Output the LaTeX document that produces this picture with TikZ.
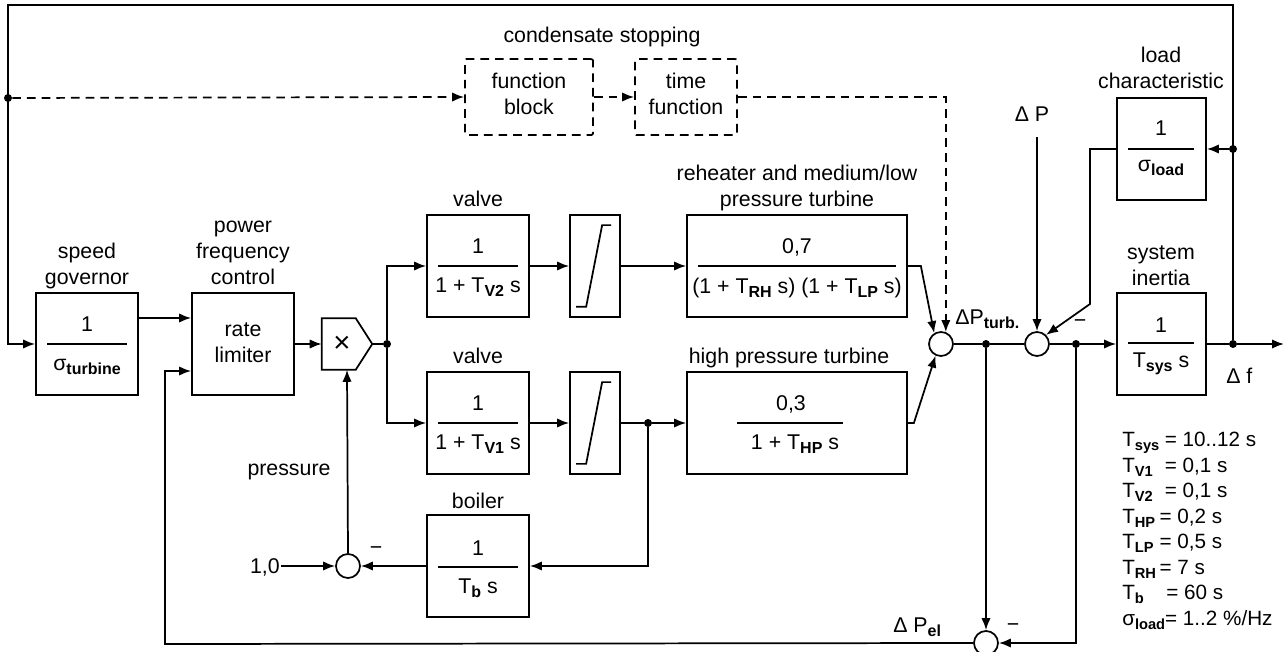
\documentclass[tikz,border=0pt]{standalone}
\usepackage{fontspec}
\setmainfont{Liberation Sans}
\usetikzlibrary{arrows.meta,calc}
\newcommand\sbb[1]{\raisebox{-3pt}{\fontsize{12}{12}\selectfont\bfseries #1}}
\newcommand\sbp[1]{\raisebox{-3pt}{\fontsize{11}{11}\selectfont\bfseries #1}}
\begin{document}
\begin{tikzpicture}[x=0.75pt,y=-0.75pt,
  every node/.style={font=\fontsize{16}{19.5}\selectfont},
  ln/.style={line width=1.3pt},
  arr/.style={line width=1.3pt,-{Latex[length=9pt,width=7pt]}},
  blk/.style={draw,line width=1.3pt,minimum width=76.5pt,minimum height=76.5pt,inner sep=0pt},
  limbox/.style={blk,minimum width=37.5pt},
  sumc/.style={draw,circle,line width=1.3pt,minimum size=18pt,inner sep=0pt},
  dotn/.style={circle,fill,inner sep=0pt,minimum size=6pt},
  dsh/.style={dash pattern=on 6.5pt off 4.5pt},
  txt/.style={anchor=base,inner sep=0pt},
  lbl/.style={anchor=base,inner sep=0pt,align=center},
  par/.style={anchor=base west,inner sep=0pt,font=\fontsize{15.5}{19}\selectfont}]
\useasboundingbox (0,0) rectangle (1286,652);

% ---- blocks
\node[blk] (gov) at (87,344) {};
\node[blk] (rate) at (243,344) {};
\node[minimum width=37.5pt,minimum height=38.25pt,inner sep=0pt] (mult) at (347,344) {};
\draw[ln] (mult.north west) -- ($(mult.north west)+(34,0)$) -- (mult.east)
   -- ($(mult.south west)+(34,0)$) -- (mult.south west) -- cycle;
\node[inner sep=0pt,font=\fontsize{22}{22}\selectfont] at (342,344) {×};
\node[blk] (v2) at (478,266) {};
\node[limbox] (lim2) at (595,266) {};
\node[blk,minimum width=165pt] (rh) at (797,266) {};
\node[blk] (v1) at (478,423) {};
\node[limbox] (lim1) at (595,423) {};
\node[blk,minimum width=165pt] (hp) at (797,423) {};
\node[blk] (boil) at (478,566) {};
\node[blk,minimum width=66.75pt] (load) at (1161.5,149) {};
\node[blk,minimum width=66.75pt] (sys) at (1161.5,344) {};
\node[draw,line width=1.3pt,dsh,rounded corners=1pt,minimum width=96pt,minimum height=57pt,inner sep=0pt] (fb) at (529,97) {};
\node[draw,line width=1.3pt,dsh,rounded corners=1pt,minimum width=76.5pt,minimum height=57pt,inner sep=0pt] (tf) at (686,97) {};

% ---- summing points
\node[sumc] (c1) at (941,344) {};
\node[sumc] (c2) at (1037,344) {};
\node[sumc] (c3) at (348,566) {};
\node[sumc] (c4) at (986,643) {};

% ---- junction dots
\node[dotn] (ddot) at (8,98) {};
\node[dotn] (mdot) at (387,344) {};
\node[dotn] (hdot) at (648,423) {};
\node[dotn] (pdot) at (986,344) {};
\node[dotn] (sdot) at (1076,344) {};
\node[dotn] (fdot) at (1233,344) {};
\node[dotn] (ldot) at (1233,149) {};
\coordinate (tl) at (8,5);
\coordinate (outend) at (1284,344);
\coordinate (dpin) at (1037,137);
\coordinate (one) at (281,566);
\coordinate (fbl) at (165,644);

% ---- block contents
\draw[ln] (47,344) -- (127,344);
\node[txt] at (87,332) {1};
\node[txt] at (87,371) {σ\sbb{turbine}};
\node[lbl] at (243,363) {rate\\limiter};
\foreach \y/\k in {266/2,423/1}{
  \draw[ln] (438,\y) -- (518,\y);
  \node[txt] at (478,\y-12) {1};
  \node[txt] at (478,\y+27) {1 + T\sbb{V\k} s};
}
\draw[ln] (698,266) -- (896,266);
\node[txt] at (797,254) {0,7};
\node[txt] at (797,294) {(1 + T\sbb{RH} s) (1 + T\sbb{LP} s)};
\draw[ln] (737,423) -- (843,423);
\node[txt] at (791,411) {0,3};
\node[txt] at (795,450) {1 + T\sbb{HP} s};
\draw[ln] (438,567) -- (518,567);
\node[txt] at (478,555) {1};
\node[txt] at (478,593) {T\sbb{b} s};
\draw[ln] (1128,149) -- (1194,149);
\node[txt] at (1161,136) {1};
\node[txt] at (1161,172) {σ\sbb{load}};
\draw[ln] (1128,343) -- (1194,343);
\node[txt] at (1161,333) {1};
\node[txt] at (1161,368) {T\sbb{sys} s};
\node[lbl] at (529,115) {function\\block};
\node[lbl] at (686,115) {time\\function};
% limiter curves
\foreach \b in {lim1,lim2}{
  \draw[ln] ($(\b.south west)+(7,-11)$) -- ++(10,0) -- ($(\b.north west)+(33,11)$) -- ++(9,0);
}

% ---- labels
\node[lbl] at (87,285) {speed\\governor};
\node[lbl] at (243,285) {power\\frequency\\control};
\node[txt] at (478,207) {valve};
\node[txt] at (478,364) {valve};
\node[lbl] at (797,207) {reheater and medium/low\\pressure turbine};
\node[txt] at (789,364) {high pressure turbine};
\node[txt] at (478,508) {boiler};
\node[txt] at (289,475) {pressure};
\node[txt,anchor=base east] at (280,573) {1,0};
\node[txt] at (602,43) {condensate stopping};
\node[lbl] at (1161,89) {load\\characteristic};
\node[lbl] at (1161,286) {system\\inertia};
\node[txt] at (1032,122) {Δ P};
\node[txt,anchor=base west] at (955,325) {ΔP\sbb{turb.}};
\node[txt,anchor=base west] at (1226,383) {Δ f};
\node[txt,anchor=base west] at (893,632) {Δ P\sbb{el}};
\node[inner sep=0pt] at (1080,324) {−};
\node[inner sep=0pt] at (1013,628) {−};
\node[inner sep=0pt] at (376,551) {−};

% parameters
\node[par] at (1122,446) {\makebox[32pt][l]{T\sbp{sys}}= 10..12 s};
\node[par] at (1122,472) {\makebox[32pt][l]{T\sbp{V1}}= 0,1 s};
\node[par] at (1122,497) {\makebox[32pt][l]{T\sbp{V2}}= 0,1 s};
\node[par] at (1122,523) {\makebox[28pt][l]{T\sbp{HP}}= 0,2 s};
\node[par] at (1122,548) {\makebox[28pt][l]{T\sbp{LP}}= 0,5 s};
\node[par] at (1122,574) {\makebox[28pt][l]{T\sbp{RH}}= 7 s};
\node[par] at (1122,599) {\makebox[33pt][l]{T\sbp{b}}= 60 s};
\node[par] at (1122,625) {σ\sbp{load}= 1..2 \%/Hz};

% ---- connectors
\draw[arr] (fdot) |- (tl) |- (gov.west);
\draw[arr] (gov.east |- 0,318) -- (rate.west |- 0,318);
\draw[arr] (rate.east) -- (mult.west);
\draw[ln] (mult.east) -- (mdot);
\draw[arr] (mdot) |- (v2.west);
\draw[arr] (mdot) |- (v1.west);
\draw[arr] (v2.east) -- (lim2.west);
\draw[arr] (lim2.east) -- (rh.west);
\draw[arr] (v1.east) -- (lim1.west);
\draw[ln] (lim1.east) -- (hdot);
\draw[arr] (hdot) -- (hp.west);
\draw[arr] (hdot) |- (boil.east);
\draw[arr] (boil.west) -- (c3.east);
\draw[arr] (one) -- (c3.west);
\draw[arr] (c3.north) -- (mult.south);
\draw[arr] (rh.east) -- ++(13,0) -- (c1.122);
\draw[arr] (hp.east) -- ++(6,0) -- (c1.245);
\draw[ln] (c1.east) -- (pdot) -- (c2.west);
\draw[ln] (c2.east) -- (sdot);
\draw[arr] (sdot) -- (sys.west);
\draw[ln] (sys.east) -- (fdot);
\draw[arr] (fdot) -- (outend);
\draw[arr] (ldot) -- (load.east);
\draw[arr] (load.west) -- (1090,149) -- (1090,304) -- (c2.north east);
\draw[arr] (dpin) -- (c2.north);
\draw[arr] (pdot) -- (c4.north);
\draw[arr] (sdot) |- (c4.east);
\draw[arr] (c4.west) -- (fbl) |- (rate.west |- 0,371);
% dashed path
\draw[arr,dsh] (ddot) -- (fb.west);
\draw[arr,dsh] (fb.east) -- (tf.west);
\draw[arr,dsh] (tf.east) -- (c1.68 |- tf.east) -- (c1.68);
\end{tikzpicture}
\end{document}
